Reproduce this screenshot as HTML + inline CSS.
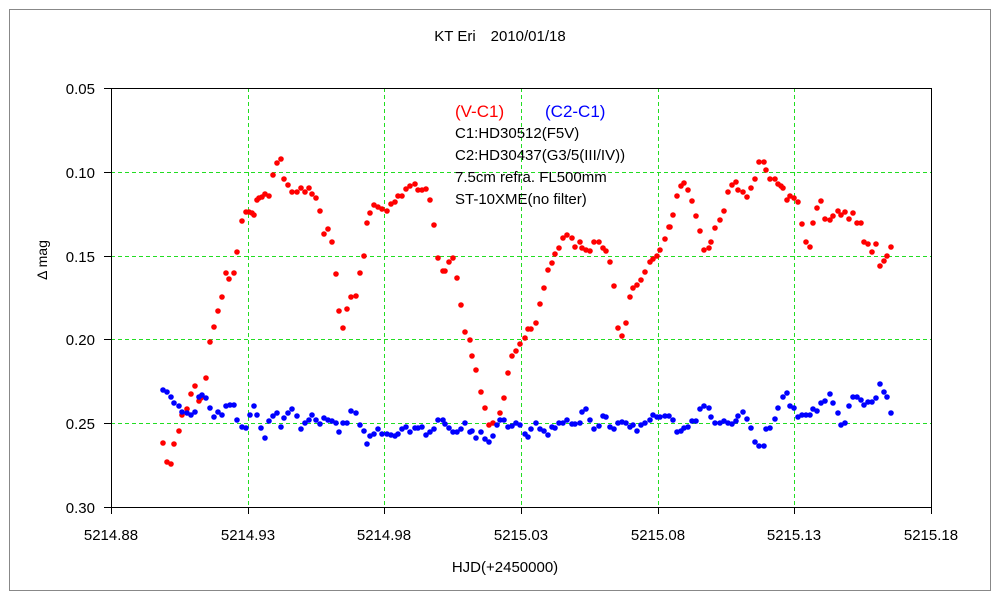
<!DOCTYPE html>
<html><head><meta charset="utf-8"><style>
body{margin:0;background:#fff;}
svg{display:block;font-family:"Liberation Sans","Noto Sans CJK JP",sans-serif;}
</style></head><body>
<svg id="s" width="1000" height="600" viewBox="0 0 1000 600" xmlns="http://www.w3.org/2000/svg">
<rect x="0" y="0" width="1000" height="600" fill="#fff"/>
<rect x="9.5" y="9.5" width="981" height="581" fill="none" stroke="#888" stroke-width="1"/>
<text x="500" y="41" font-size="15" text-anchor="middle">KT Eri　2010/01/18</text>
<g stroke="#22dd22" stroke-width="1" stroke-dasharray="4,3" fill="none">
<line x1="111" y1="172.5" x2="931" y2="172.5"/>
<line x1="111" y1="256.5" x2="931" y2="256.5"/>
<line x1="111" y1="339.5" x2="931" y2="339.5"/>
<line x1="111" y1="423.5" x2="931" y2="423.5"/>
<line x1="248.5" y1="88" x2="248.5" y2="507"/>
<line x1="384.5" y1="88" x2="384.5" y2="507"/>
<line x1="521.5" y1="88" x2="521.5" y2="507"/>
<line x1="658.5" y1="88" x2="658.5" y2="507"/>
<line x1="794.5" y1="88" x2="794.5" y2="507"/>
</g>
<rect x="111.5" y="88.5" width="820" height="419" fill="none" stroke="#000" stroke-width="1"/>
<g stroke="#000" stroke-width="1">
<line x1="104" y1="88.5" x2="111" y2="88.5"/><line x1="104" y1="172.5" x2="111" y2="172.5"/>
<line x1="104" y1="256.5" x2="111" y2="256.5"/><line x1="104" y1="339.5" x2="111" y2="339.5"/>
<line x1="104" y1="423.5" x2="111" y2="423.5"/><line x1="104" y1="507.5" x2="111" y2="507.5"/>
<line x1="111.5" y1="507" x2="111.5" y2="514"/><line x1="248.5" y1="507" x2="248.5" y2="514"/>
<line x1="384.5" y1="507" x2="384.5" y2="514"/><line x1="521.5" y1="507" x2="521.5" y2="514"/>
<line x1="658.5" y1="507" x2="658.5" y2="514"/><line x1="794.5" y1="507" x2="794.5" y2="514"/>
<line x1="931.5" y1="507" x2="931.5" y2="514"/>
</g>
<g font-size="15" text-anchor="end">
<text x="95" y="94">0.05</text><text x="95" y="178">0.10</text><text x="95" y="262">0.15</text>
<text x="95" y="345">0.20</text><text x="95" y="429">0.25</text><text x="95" y="513">0.30</text>
</g>
<g font-size="15" text-anchor="middle">
<text x="111" y="540">5214.88</text><text x="248" y="540">5214.93</text><text x="384" y="540">5214.98</text>
<text x="521" y="540">5215.03</text><text x="658" y="540">5215.08</text><text x="794" y="540">5215.13</text>
<text x="931" y="540">5215.18</text>
<text x="505" y="572">HJD(+2450000)</text>
</g>
<text transform="translate(47,260) rotate(-90)" font-size="14" text-anchor="middle">Δ mag</text>
<g font-size="15">
<text x="455" y="117" fill="#ff0000" font-size="17">(V-C1)</text>
<text x="545" y="117" fill="#0000ff" font-size="17">(C2-C1)</text>
<text x="455" y="138">C1:HD30512(F5V)</text>
<text x="455" y="160">C2:HD30437(G3/5(III/IV))</text>
<text x="455" y="182">7.5cm refra. FL500mm</text>
<text x="455" y="204">ST-10XME(no filter)</text>
</g>
<g id="red" fill="#ff0000"></g>
<g id="blue" fill="#0000ff"></g>
</svg>
<script>
var R=[163,443,167,462,171,464,174,444,179,431,182,415,187,409,191,394,195,386,199,401,201,398,206,378,210,342,214,327,218,311,222,297,226,273,229,279,234,273,237,252,242,221,246,212,249,212,252,213,254,215,257,200,259,198,262,197,265,194,269,196,273,175,277,163,281,159,284,179,288,185,292,192,297,192,301,188,305,192,309,188,312,194,316,198,320,211,324,234,328,229,332,242,336,274,339,311,343,328,347,309,351,297,356,296,360,273,364,256,367,223,370,213,374,205,378,207,382,209,387,211,391,204,395,202,398,196,402,196,406,189,410,186,415,184,418,190,422,190,426,189,430,200,434,225,438,258,443,271,445,271,449,262,453,258,457,278,461,305,465,332,470,340,472,356,476,370,481,392,485,408,489,425,493,423,500,413,504,398,508,373,512,356,516,351,520,344,525,338,528,329,531,329,536,323,540,304,544,288,548,270,552,263,555,254,559,248,563,238,567,235,572,238,575,247,580,242,582,248,586,250,590,251,594,242,599,242,603,248,606,251,610,262,614,286,618,328,622,336,626,323,630,297,633,288,637,285,641,280,645,272,650,262,653,259,657,256,660,250,665,239,669,227,670,227,673,215,677,196,681,186,684,183,688,190,692,201,696,216,700,231,704,250,709,248,711,242,715,228,720,220,724,211,728,192,732,185,736,182,738,190,743,192,747,197,751,188,755,179,759,162,764,162,766,170,770,179,775,179,778,184,781,186,783,188,787,200,790,196,794,198,798,202,802,224,806,242,810,247,813,223,817,208,821,201,825,219,830,220,833,216,838,211,841,215,845,212,849,219,853,213,857,223,861,223,864,242,868,244,872,252,876,244,880,266,884,261,887,256,891,247];
var B=[163,390,167,392,171,397,174,403,179,406,182,412,187,413,191,415,195,412,199,397,202,395,206,398,210,408,214,417,218,412,222,415,226,406,230,405,234,405,237,420,242,427,246,428,250,415,254,406,257,415,261,428,265,438,269,421,273,416,277,413,281,427,284,418,288,413,292,409,297,416,301,429,305,423,309,420,312,415,316,420,320,424,324,418,328,420,332,421,336,423,339,432,343,423,347,423,351,411,356,413,360,425,364,431,367,444,370,436,374,434,378,429,382,434,387,434,391,435,395,436,398,434,402,429,406,427,410,432,415,428,418,428,422,427,426,435,430,432,434,429,438,420,443,420,445,424,449,428,453,432,457,432,461,429,465,423,470,432,472,431,476,438,481,432,485,439,489,442,493,436,497,425,500,420,504,420,508,427,512,426,516,423,520,425,525,434,528,437,531,429,536,423,540,429,544,431,548,435,552,427,555,428,559,423,563,423,567,420,572,424,575,424,580,423,582,412,586,409,590,420,594,429,599,426,603,416,606,417,610,427,614,429,618,423,622,422,626,423,630,427,633,425,637,431,641,425,645,423,650,420,653,415,657,417,660,417,665,416,669,416,673,420,677,432,681,431,684,428,688,427,692,421,696,421,700,409,704,406,709,408,711,417,715,423,720,423,724,421,728,423,732,424,736,421,738,416,743,412,747,419,751,428,755,442,759,446,764,446,766,429,770,428,775,419,778,408,783,397,787,393,790,406,794,408,798,417,802,415,806,415,810,415,813,409,817,411,821,403,825,401,830,394,833,403,838,413,841,425,845,423,849,406,853,397,857,397,861,400,864,405,868,402,872,402,876,398,880,384,884,392,887,397,891,413];
function draw(a,id){var g=document.getElementById(id),h='';for(var i=0;i<a.length;i+=2){h+='<circle cx="'+a[i]+'" cy="'+a[i+1]+'" r="2.8"/>';}g.innerHTML=h;}
draw(R,'red');draw(B,'blue');
</script>
</body></html>
